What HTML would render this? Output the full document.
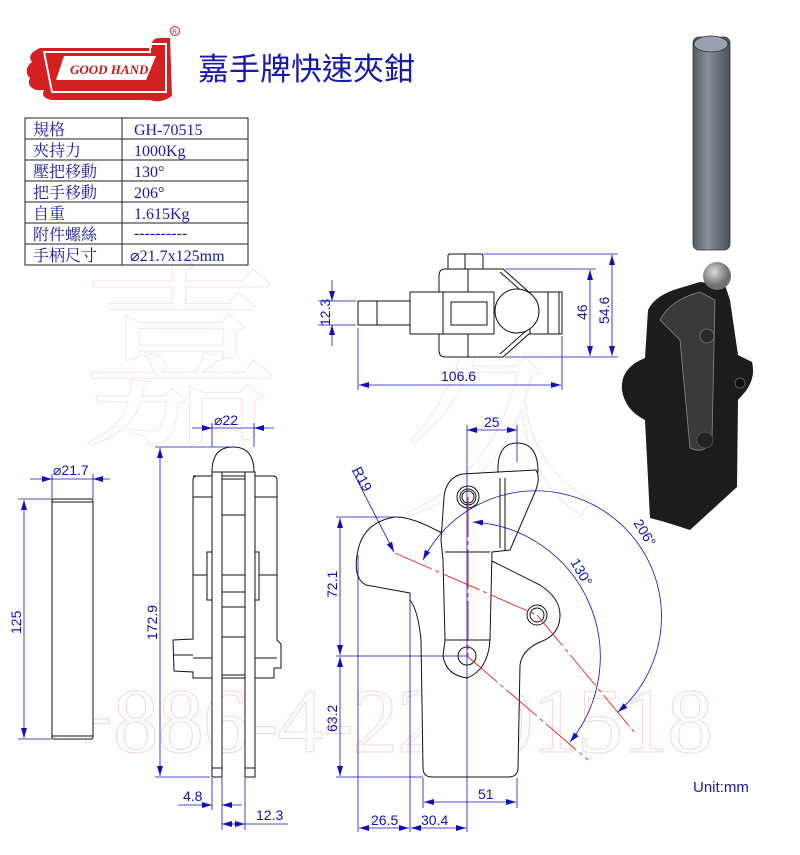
<!DOCTYPE html>
<html><head><meta charset="utf-8"><style>
html,body{margin:0;padding:0;background:#fff;}
svg{display:block;}
</style></head><body>
<svg width="800" height="855" viewBox="0 0 800 855" xmlns="http://www.w3.org/2000/svg" font-family="Liberation Sans, sans-serif">
<defs>
<marker id="a" viewBox="0 0 10 6" refX="10" refY="3" markerWidth="10" markerHeight="6" orient="auto-start-reverse" markerUnits="userSpaceOnUse"><path d="M0,0 L10,3 L0,6 z" fill="#1010c0"/></marker>
<linearGradient id="rod" x1="0" x2="1"><stop offset="0" stop-color="#555a66"/><stop offset="0.4" stop-color="#8a8f9c"/><stop offset="1" stop-color="#4a4e58"/></linearGradient>
<radialGradient id="ball" cx="0.4" cy="0.35"><stop offset="0" stop-color="#dcdcdc"/><stop offset="1" stop-color="#707070"/></radialGradient>
</defs>

<!-- watermark -->
<g fill="none" stroke="#f5d6d6" stroke-width="1">
<text x="62" y="752" font-family="Liberation Serif, serif" font-size="92" letter-spacing="-1">+886-4-22801518</text>
<text x="80" y="430" font-family="Liberation Serif, Noto Serif CJK SC, serif" font-size="200" stroke="#f8e2e2">嘉</text>
<text x="400" y="500" font-family="Liberation Serif, Noto Serif CJK SC, serif" font-size="200" stroke="#f8e2e2">久</text>
</g>

<!-- logo -->
<g>
<path d="M40,48 L152,48 Q150,38 160,38 L170,38 L172,96 Q160,104 150,100 L52,100 Q40,98 44,90 L36,90 Q26,86 30,78 L28,76 Q24,68 32,62 Q26,54 40,48 Z" fill="#d42020"/>
<path d="M44,52 L150,52 L150,44 L166,44 L166,92 L52,92 Z" fill="none" stroke="#fff" stroke-width="2"/>
<path d="M64,56 L156,56 L146,80 L56,80 Z" fill="#fff"/>
<text x="70" y="74" font-family="Liberation Serif, serif" font-style="italic" font-weight="bold" font-size="13" fill="#c81818">GOOD HAND</text>
<circle cx="175" cy="31" r="4.5" fill="none" stroke="#c81818" stroke-width="1"/>
<text x="172.5" y="34" font-size="6" fill="#c81818">R</text>
</g>
<text x="198" y="80" font-family="Liberation Sans, Noto Sans CJK TC, sans-serif" font-size="31" fill="#1a1aa8">嘉手牌快速夾鉗</text>

<!-- table -->
<g stroke="#222" stroke-width="1" fill="none">
<rect x="25" y="118" width="223" height="147"/>
<line x1="122" y1="118" x2="122" y2="265"/>
<line x1="25" y1="139" x2="248" y2="139"/>
<line x1="25" y1="160" x2="248" y2="160"/>
<line x1="25" y1="181" x2="248" y2="181"/>
<line x1="25" y1="202" x2="248" y2="202"/>
<line x1="25" y1="223" x2="248" y2="223"/>
<line x1="25" y1="244" x2="248" y2="244"/>
</g>
<g font-family="Liberation Serif, Noto Serif CJK TC, serif" font-size="16" fill="#1a1aa8">
<text x="33" y="135">規格</text><text x="134" y="135">GH-70515</text>
<text x="33" y="156">夾持力</text><text x="134" y="156">1000Kg</text>
<text x="33" y="177">壓把移動</text><text x="134" y="177">130°</text>
<text x="33" y="198">把手移動</text><text x="134" y="198">206°</text>
<text x="33" y="219">自重</text><text x="134" y="219">1.615Kg</text>
<text x="33" y="240">附件螺絲</text><text x="134" y="238">----------</text>
<text x="33" y="261">手柄尺寸</text><text x="130" y="261">⌀21.7x125mm</text>
</g>

<!-- top view -->
<g stroke="#111" stroke-width="1" fill="#fff">
<path d="M448,269 L448,256 Q448,254 450,254 L481,254 Q483,254 483,256 L483,269 Z"/>
<line x1="465" y1="254" x2="465" y2="269"/>
<path d="M445,269 L503,269 L530,293 L530,333 L503,357 L445,357 Q439,357 439,350 L439,276 Q439,269 445,269 Z"/>
<path d="M500,272 L527,296 M500,354 L527,330" fill="none"/>
<rect x="358" y="301" width="52" height="24"/>
<line x1="377" y1="301" x2="377" y2="325"/>
<rect x="410" y="292" width="84" height="42"/>
<line x1="443" y1="292" x2="443" y2="334"/>
<rect x="451" y="302" width="36" height="23"/>
<line x1="468" y1="269" x2="468" y2="292"/><line x1="468" y1="334" x2="468" y2="357"/>
<rect x="530" y="292" width="32" height="42"/>
<line x1="548" y1="292" x2="548" y2="334"/><line x1="559" y1="292" x2="559" y2="334"/>
<circle cx="517" cy="311" r="22"/>
</g>
<g stroke="#1010c0" stroke-width="0.8" fill="none">
<line x1="318" y1="301" x2="356" y2="301"/><line x1="318" y1="325" x2="356" y2="325"/>
<line x1="332" y1="280" x2="332" y2="301" marker-end="url(#a)"/>
<line x1="332" y1="346" x2="332" y2="325" marker-end="url(#a)"/>
<line x1="358" y1="328" x2="358" y2="390"/><line x1="562" y1="336" x2="562" y2="390"/>
<line x1="359" y1="385" x2="561" y2="385" marker-start="url(#a)" marker-end="url(#a)"/>
<line x1="505" y1="269" x2="596" y2="269"/><line x1="505" y1="357" x2="618" y2="357"/>
<line x1="484" y1="254" x2="618" y2="254"/>
<line x1="590" y1="270" x2="590" y2="356" marker-start="url(#a)" marker-end="url(#a)"/>
<line x1="612" y1="255" x2="612" y2="356" marker-start="url(#a)" marker-end="url(#a)"/>
</g>
<g fill="#1010c0" font-size="14">
<text transform="translate(330,326) rotate(-90)">12.3</text>
<text x="441" y="381">106.6</text>
<text transform="translate(587,320) rotate(-90)">46</text>
<text transform="translate(609,324) rotate(-90)">54.6</text>
</g>

<!-- handle rod -->
<g stroke="#111" stroke-width="1" fill="#fff">
<rect x="52" y="499" width="41" height="240" rx="2"/>
<line x1="52" y1="502" x2="93" y2="502"/><line x1="52" y1="736" x2="93" y2="736"/>
</g>
<g stroke="#1010c0" stroke-width="0.8" fill="none">
<line x1="52" y1="474" x2="52" y2="499"/><line x1="93" y1="474" x2="93" y2="499"/>
<line x1="30" y1="479" x2="52" y2="479" marker-end="url(#a)"/>
<line x1="110" y1="479" x2="93" y2="479" marker-end="url(#a)"/>
<line x1="52" y1="479" x2="93" y2="479"/>
<line x1="18" y1="499" x2="52" y2="499"/><line x1="18" y1="739" x2="52" y2="739"/>
<line x1="24" y1="500" x2="24" y2="738" marker-start="url(#a)" marker-end="url(#a)"/>
</g>
<g fill="#1010c0" font-size="14">
<text x="53" y="475">⌀21.7</text>
<text transform="translate(21,634) rotate(-90)">125</text>
</g>

<!-- side view -->
<g stroke="#111" stroke-width="1" fill="#fff">
<path d="M212,472 Q212,447 233,447 Q254,447 254,472 Z"/>
<path d="M193,476 L273,476 Q277,476 277,480 L277,640 L281,644 L281,668 L274,668 L274,678 L193,678 L193,672 L174,671 L173,640 L193,639 L193,480 Q193,476 197,476 Z"/>
<line x1="193" y1="497" x2="277" y2="497"/>
<line x1="193" y1="575" x2="277" y2="575"/>
<line x1="193" y1="658" x2="277" y2="658"/>
<line x1="174" y1="655" x2="193" y2="655"/>
<rect x="207" y="552" width="6" height="48"/><rect x="253" y="552" width="6" height="48"/>
<rect x="212" y="472" width="10" height="305"/>
<rect x="245" y="472" width="10" height="305"/>
<rect x="222" y="479" width="23" height="36"/>
<rect x="222" y="637" width="23" height="38"/>
<line x1="222" y1="592" x2="245" y2="592"/><line x1="222" y1="607" x2="245" y2="607"/>
<line x1="212" y1="768" x2="222" y2="768"/><line x1="245" y1="768" x2="255" y2="768"/>
</g>
<g stroke="#1010c0" stroke-width="0.8" fill="none">
<line x1="212" y1="423" x2="212" y2="447"/><line x1="254" y1="423" x2="254" y2="447"/>
<line x1="192" y1="428" x2="212" y2="428" marker-end="url(#a)"/>
<line x1="274" y1="428" x2="254" y2="428" marker-end="url(#a)"/>
<line x1="212" y1="428" x2="254" y2="428"/>
<line x1="155" y1="447" x2="232" y2="447"/><line x1="155" y1="777" x2="210" y2="777"/>
<line x1="160" y1="448" x2="160" y2="776" marker-start="url(#a)" marker-end="url(#a)"/>
<line x1="212" y1="778" x2="212" y2="810"/><line x1="222" y1="778" x2="222" y2="830"/><line x1="245" y1="778" x2="245" y2="830"/>
<line x1="178" y1="805" x2="212" y2="805" marker-end="url(#a)"/>
<line x1="242" y1="805" x2="222" y2="805" marker-end="url(#a)"/>
<line x1="222" y1="824" x2="245" y2="824" marker-start="url(#a)" marker-end="url(#a)"/>
<line x1="245" y1="824" x2="288" y2="824"/>
</g>
<g fill="#1010c0" font-size="14">
<text x="214" y="425">⌀22</text>
<text transform="translate(157,640) rotate(-90)">172.9</text>
<text x="183" y="801">4.8</text>
<text x="256" y="820">12.3</text>
</g>

<!-- front view -->
<g stroke="#111" stroke-width="1" fill="#fff">
<path d="M498,472 Q497,443 517,443 Q538,443 538,472 Z"/>
<path d="M410,593 L366,585 Q352,578 358,550 Q364,522 395,517 Q410,516 440,532 L492,561 L540,585 Q560,598 560,615 Q560,635 540,642 Q522,650 520,665 L518,768 Q518,777 508,777 L432,777 Q423,777 423,768 L421,640 Q418,610 410,600 Z"/>
<path d="M445,640 L443,560 L441,540 L444,497 Q446,478 462,474 L498,472 L536,470 Q541,478 535,492 L510,550 L492,552 L490,640 Q488,670 467,678 Q446,675 443,656 Z"/>
<path d="M445,552 L490,552 M445,640 L490,640" fill="none"/>
<path d="M500,478 L500,548 M505,478 L505,550" fill="none"/>
<circle cx="468" cy="497" r="11"/><circle cx="468" cy="497" r="8"/><circle cx="468" cy="497" r="6"/>
<circle cx="537" cy="615" r="10"/><circle cx="537" cy="615" r="7"/>
<circle cx="467" cy="656" r="9"/>
</g>
<g stroke="#e02020" stroke-width="0.9" fill="none" stroke-dasharray="40,4,4,4">
<line x1="395" y1="553" x2="537" y2="615"/>
<line x1="537" y1="615" x2="635" y2="733"/>
<line x1="467" y1="656" x2="588" y2="760"/>
<line x1="468" y1="497" x2="468" y2="656"/>
</g>
<g stroke="#1010c0" stroke-width="0.8" fill="none">
<line x1="467" y1="425" x2="467" y2="832"/>
<line x1="517" y1="425" x2="517" y2="462"/>
<line x1="467" y1="430" x2="517" y2="430" marker-start="url(#a)" marker-end="url(#a)"/>
<line x1="336" y1="517" x2="395" y2="517"/>
<line x1="336" y1="656" x2="467" y2="656"/>
<line x1="336" y1="777" x2="423" y2="777"/>
<line x1="340" y1="518" x2="340" y2="655" marker-start="url(#a)" marker-end="url(#a)"/>
<line x1="340" y1="657" x2="340" y2="776" marker-start="url(#a)" marker-end="url(#a)"/>
<line x1="358" y1="555" x2="358" y2="832"/>
<line x1="410" y1="595" x2="410" y2="832"/>
<line x1="423" y1="778" x2="423" y2="808"/><line x1="517" y1="778" x2="517" y2="808"/>
<line x1="424" y1="802" x2="516" y2="802" marker-start="url(#a)" marker-end="url(#a)"/>
<line x1="359" y1="828" x2="409" y2="828" marker-start="url(#a)" marker-end="url(#a)"/>
<line x1="411" y1="828" x2="466" y2="828" marker-start="url(#a)" marker-end="url(#a)"/>
<line x1="352" y1="470" x2="394" y2="552" marker-end="url(#a)"/>
<path d="M473,522 A135,135 0 0 1 570,742" marker-start="url(#a)" marker-end="url(#a)"/>
<path d="M423,560 A126,126 0 1 1 618,712" marker-start="url(#a)" marker-end="url(#a)"/>
</g>
<g fill="#1010c0" font-size="14">
<text x="484" y="427">25</text>
<text transform="translate(337,598) rotate(-90)">72.1</text>
<text transform="translate(337,732) rotate(-90)">63.2</text>
<text x="478" y="799">51</text>
<text x="371" y="825">26.5</text>
<text x="421" y="825">30.4</text>
<text transform="translate(352,470) rotate(62)">R19</text>
<text transform="translate(570,562) rotate(60)">130°</text>
<text transform="translate(633,523) rotate(58)">206°</text>
</g>
<text x="693" y="792" font-size="15" fill="#1a1aa8">Unit:mm</text>

<!-- 3D view -->
<g>
<rect x="693" y="37" width="37" height="213" rx="6" fill="url(#rod)" stroke="#333" stroke-width="0.8"/>
<ellipse cx="711" cy="44" rx="17" ry="8" fill="#9aa0ae" stroke="#333" stroke-width="0.8"/>
<path d="M622,390 Q620,368 645,358 L648,310 Q655,295 680,288 L700,282 L725,285 L730,300 L738,355 L752,362 Q756,378 745,392 L738,400 L737,487 L690,530 L665,522 L650,518 L645,420 Q625,410 622,390 Z" fill="#1c1c1c"/>
<path d="M660,320 Q670,300 700,292 L715,300 L712,440 Q705,455 690,448 L680,340 Z" fill="#3a3a3a" stroke="#888" stroke-width="0.8"/>
<circle cx="717" cy="276" r="14" fill="url(#ball)"/>
<circle cx="707" cy="336" r="7" fill="#2a2a2a" stroke="#777" stroke-width="0.8"/>
<circle cx="705" cy="440" r="8" fill="#222" stroke="#555" stroke-width="0.8"/>
<circle cx="740" cy="383" r="5" fill="#111" stroke="#666" stroke-width="0.8"/>
</g>
</svg>
</body></html>
